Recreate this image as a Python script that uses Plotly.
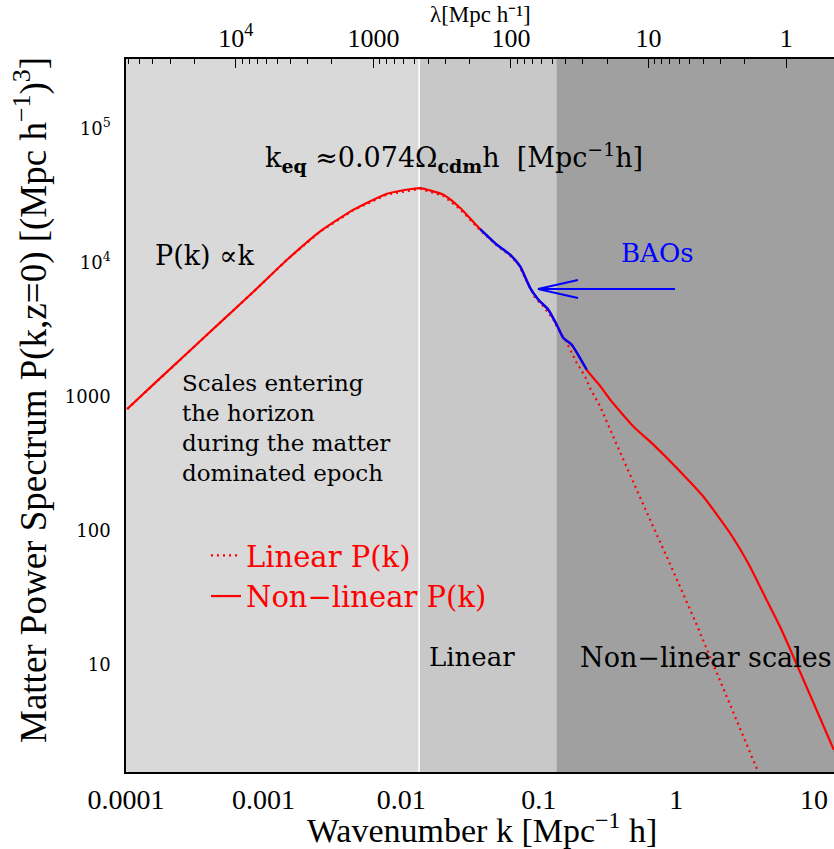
import math
import plotly.graph_objects as go

# ---- data ----
k_nonlinear = [1.02e-4, 1.59e-4, 2.78e-4, 4.85e-4, 8.47e-4, 1.48e-3, 2.58e-3, 4.51e-3,
               7.89e-3, 0.0123, 0.01377, 0.0203, 0.0269, 0.0375, 0.0497, 0.0619, 0.0733,
               0.0867, 0.0995, 0.1175, 0.1352, 0.1510, 0.1738, 0.2234, 0.2871, 0.3304,
               0.4875, 0.681, 1.007, 1.570, 2.455, 3.428, 4.529, 5.821, 13.96]
P_nonlinear = [809, 1242, 2113, 3589, 6095, 10520, 17140, 24890,
               32730, 35650, 36060, 32140, 25590, 17820, 13610, 11480, 9376,
               6471, 5297, 4457, 3443, 2742, 2443, 1589, 1161, 951,
               600, 439, 294, 180, 96.2, 54.2, 30.5, 18.2, 2.32]

k_linear = [1.02e-4, 1.59e-4, 2.78e-4, 4.85e-4, 8.47e-4, 1.48e-3, 2.58e-3, 4.51e-3,
            7.89e-3, 0.0123, 0.01377, 0.0203, 0.0269, 0.0375, 0.0497, 0.0619, 0.0713,
            0.0820, 0.0942, 0.1081, 0.1279, 0.1390, 0.1600, 0.1892, 0.2173, 0.2360,
            0.2793, 0.3690, 0.4875, 0.644, 0.851, 1.125, 1.406, 3.855, 4.467]
P_linear = [809, 1242, 2113, 3589, 6095, 10520, 17100, 24700,
            32300, 35200, 35600, 31500, 25000, 17500, 13400, 11300, 9661,
            7244, 5458, 4721, 3758, 3162, 2518, 1782, 1416, 1161,
            847, 439, 227, 121, 64.3, 33.3, 19.9, 1.67, 1.17]

bao_k_range = [0.0375, 0.2234]          # part of the curve highlighted in blue
k_equality = 0.0135                      # white vertical line
k_nonlinear_start = 0.135                # start of the non-linear (dark) region
k_axis_min, k_axis_max = 1e-4, 14.0

bottom_tickvals = [1e-4, 1e-3, 1e-2, 1e-1, 1, 10]
bottom_ticktext = ["0.0001", "0.001", "0.01", "0.1", "1", "10"]
left_tickvals = [10, 100, 1000, 1e4, 1e5]
left_ticktext = ["10", "100", "1000", "10<sup>4</sup>", "10<sup>5</sup>"]
top_lambda = [1e4, 1000, 100, 10, 1]
top_ticktext = ["10<sup>4</sup>", "1000", "100", "10", "1"]
top_minor_lambda = [m * 10 ** e for e in range(0, 5) for m in range(2, 10)]

TWO_PI = 6.283185307179586

horizon_text = ["Scales entering", "the horizon", "during the matter", "dominated epoch"]

# ---- layout geometry ----
W, H = 834, 849
ML, MT, MR = 126, 59, 0
PW = W - ML - MR          # 708
PH = 713
MB = H - MT - PH


def px(x):   # picture pixel -> paper fraction
    return (x - ML) / PW


def py(y):
    return (MT + PH - y) / PH


fig = go.Figure()

fig.add_trace(go.Scatter(
    x=k_linear, y=P_linear, mode="lines", name="Linear P(k)",
    line=dict(color="red", width=2.2, dash="2px,4px"),
    legendgroup="a", showlegend=True))
fig.add_trace(go.Scatter(
    x=k_nonlinear, y=P_nonlinear, mode="lines", name="Non\u2212linear P(k)",
    line=dict(color="red", width=2.2, shape="spline", smoothing=0.5),
    legendgroup="b", showlegend=True))

bao_k = [k for k in k_nonlinear if bao_k_range[0] <= k <= bao_k_range[1]]
bao_P = [p for k, p in zip(k_nonlinear, P_nonlinear) if bao_k_range[0] <= k <= bao_k_range[1]]
fig.add_trace(go.Scatter(
    x=bao_k, y=bao_P, mode="lines", showlegend=False,
    line=dict(color="blue", width=2.4, shape="spline", smoothing=0.5)))

# invisible trace to activate the top axis
fig.add_trace(go.Scatter(x=[k_axis_min, k_axis_max], y=[10, 10], xaxis="x2",
                         mode="lines", line=dict(width=0), showlegend=False,
                         hoverinfo="skip"))

shapes = [
    dict(type="rect", xref="x", yref="paper", x0=k_axis_min, x1=k_equality, y0=0, y1=1,
         fillcolor="#d9d9d9", line=dict(width=0), layer="below"),
    dict(type="rect", xref="x", yref="paper", x0=k_equality, x1=k_nonlinear_start, y0=0, y1=1,
         fillcolor="#c8c8c8", line=dict(width=0), layer="below"),
    dict(type="rect", xref="x", yref="paper", x0=k_nonlinear_start, x1=k_axis_max * 2, y0=0, y1=1,
         fillcolor="#a0a0a0", line=dict(width=0), layer="below"),
    dict(type="line", xref="x", yref="paper", x0=k_equality, x1=k_equality, y0=0, y1=1,
         line=dict(color="white", width=1.5), layer="below"),
    # BAO arrow
    dict(type="line", xref="paper", yref="paper", x0=px(675), x1=px(538), y0=py(289), y1=py(289),
         line=dict(color="blue", width=2)),
    dict(type="line", xref="paper", yref="paper", x0=px(538), x1=px(578), y0=py(289), y1=py(280),
         line=dict(color="blue", width=2)),
    dict(type="line", xref="paper", yref="paper", x0=px(538), x1=px(578), y0=py(289), y1=py(298),
         line=dict(color="blue", width=2)),
]

SERIF = "DejaVu Serif"
TIMES = "Liberation Serif"


def ann(text, x, y, size=26, color="black", xanchor="left", yanchor="middle", font=SERIF, **kw):
    return dict(text=text, xref="paper", yref="paper", x=px(x), y=py(y),
                xanchor=xanchor, yanchor=yanchor, showarrow=False,
                font=dict(family=font, size=size, color=color), **kw)


annotations = [
    ann("P(k) \u221dk", 153, 255, size=27),
    ann("k<sub><b>eq</b></sub> \u22480.074\u03a9<sub><b>cdm</b></sub>h  [Mpc<sup>\u22121</sup>h]",
        263, 158, size=27),
    ann("<br>".join(horizon_text), 180, 428, size=23, align="left"),
    ann("Linear", 427, 657),
    ann("Non\u2212linear scales", 578, 657, size=27),
    ann("BAOs", 619, 253, color="blue"),
    ann("\u03bb[Mpc h\u207b\u00b9]", 480, 14, size=23, xanchor="center", font=TIMES),
    ann("Wavenumber k [Mpc<sup>\u22121</sup> h]", 482, 828, size=34, xanchor="center", font=TIMES),
    ann("Matter Power Spectrum P(k,z=0) [(Mpc h<sup>\u22121</sup>)<sup>3</sup>]", 31, 400, size=37,
        xanchor="center", font=TIMES, textangle=-90),
]

fig.update_layout(
    width=W, height=H,
    margin=dict(l=ML, r=MR, t=MT, b=MB, autoexpand=False),
    paper_bgcolor="white", plot_bgcolor="#d9d9d9",
    showlegend=True,
    legend=dict(x=px(206), y=py(530), xanchor="left", yanchor="top",
                bgcolor="rgba(0,0,0,0)", font=dict(family=SERIF, size=29, color="red"),
                tracegroupgap=0, traceorder="normal"),
    xaxis=dict(type="log", range=[math.log10(k_axis_min), math.log10(k_axis_max)],
               tickvals=bottom_tickvals, ticktext=bottom_ticktext,
               ticks="outside", ticklen=1, tickcolor="rgba(0,0,0,0)",
               showgrid=False, zeroline=False, showline=True, linecolor="black", linewidth=2,
               tickfont=dict(family=TIMES, size=28, color="black")),
    xaxis2=dict(type="log", overlaying="x", side="top",
                range=[math.log10(k_axis_min), math.log10(k_axis_max)],
                tickvals=[TWO_PI / lam for lam in top_lambda], ticktext=top_ticktext,
                ticks="inside", ticklen=9, tickcolor="black", tickwidth=1,
                minor=dict(tickvals=[TWO_PI / lam for lam in top_minor_lambda],
                           ticks="inside", ticklen=5, tickcolor="black", tickwidth=1),
                showgrid=False, zeroline=False, showline=True, linecolor="black", linewidth=1.5,
                tickfont=dict(family=TIMES, size=26, color="black"), ticklabelstandoff=0),
    yaxis=dict(type="log", range=[0.2, 5.52], tickvals=left_tickvals, ticktext=left_ticktext,
               ticks="outside", ticklen=10, tickcolor="rgba(0,0,0,0)",
               showgrid=False, zeroline=False, showline=True, linecolor="black",
               linewidth=1.5, tickfont=dict(family=SERIF, size=18, color="black")),
    shapes=shapes,
    annotations=annotations,
)

fig.write_html("out.html", config={"displayModeBar": False},
               post_script="document.body.style.margin='0px';")
